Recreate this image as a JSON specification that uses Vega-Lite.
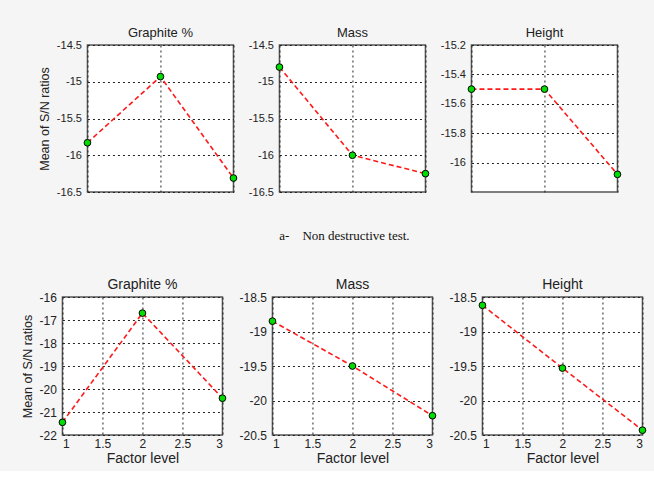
{
  "$schema": "https://vega.github.io/schema/vega-lite/v6.json",
  "background": "#f5f5f5",
  "padding": {"left": 20, "top": 26, "right": 5, "bottom": 5},
  "datasets": {
    "sn": [
      {"test": "A", "factor": "Graphite %", "level": 1, "sn": -15.83},
      {"test": "A", "factor": "Graphite %", "level": 2, "sn": -14.93},
      {"test": "A", "factor": "Graphite %", "level": 3, "sn": -16.31},
      {"test": "A", "factor": "Mass", "level": 1, "sn": -14.8},
      {"test": "A", "factor": "Mass", "level": 2, "sn": -16.0},
      {"test": "A", "factor": "Mass", "level": 3, "sn": -16.25},
      {"test": "A", "factor": "Height", "level": 1, "sn": -15.5},
      {"test": "A", "factor": "Height", "level": 2, "sn": -15.5},
      {"test": "A", "factor": "Height", "level": 3, "sn": -16.08},
      {"test": "B", "factor": "Graphite %", "level": 1, "sn": -21.45},
      {"test": "B", "factor": "Graphite %", "level": 2, "sn": -16.7},
      {"test": "B", "factor": "Graphite %", "level": 3, "sn": -20.4},
      {"test": "B", "factor": "Mass", "level": 1, "sn": -18.85},
      {"test": "B", "factor": "Mass", "level": 2, "sn": -19.5},
      {"test": "B", "factor": "Mass", "level": 3, "sn": -20.22},
      {"test": "B", "factor": "Height", "level": 1, "sn": -18.62},
      {"test": "B", "factor": "Height", "level": 2, "sn": -19.53},
      {"test": "B", "factor": "Height", "level": 3, "sn": -20.43}
    ]
  },
  "data": {"name": "sn"},
  "center": true,
  "spacing": 32,
  "vconcat": [
    {
      "hconcat": [
        {
          "title": "Graphite %",
          "width": 146, "height": 147,
          "transform": [{"filter": "datum.test == 'A' && datum.factor == 'Graphite %'"}],
          "encoding": {
            "x": {"field": "level", "type": "quantitative", "scale": {"domain": [1, 3], "nice": false, "zero": false}, "axis": {"values": [1, 2, 3], "labels": false, "title": null}},
            "y": {"field": "sn", "type": "quantitative", "scale": {"domain": [-16.5, -14.5], "nice": false, "zero": false}, "axis": {"values": [-16.5, -16, -15.5, -15, -14.5], "labelExpr": "datum.value + ''", "title": "Mean of S/N ratios", "titlePadding": 5}}
          },
          "layer": [
            {"mark": {"type": "line", "color": "#ff1a1a", "strokeDash": [5, 3], "strokeWidth": 1.6}},
            {"mark": {"type": "point", "filled": true, "fill": "#00dd00", "stroke": "#000", "strokeWidth": 1, "size": 45, "opacity": 1}}
          ]
        },
        {
          "title": "Mass",
          "width": 146, "height": 147,
          "transform": [{"filter": "datum.test == 'A' && datum.factor == 'Mass'"}],
          "encoding": {
            "x": {"field": "level", "type": "quantitative", "scale": {"domain": [1, 3], "nice": false, "zero": false}, "axis": {"values": [1, 2, 3], "labels": false, "title": null}},
            "y": {"field": "sn", "type": "quantitative", "scale": {"domain": [-16.5, -14.5], "nice": false, "zero": false}, "axis": {"values": [-16.5, -16, -15.5, -15, -14.5], "labelExpr": "datum.value + ''", "title": null}}
          },
          "layer": [
            {"mark": {"type": "line", "color": "#ff1a1a", "strokeDash": [5, 3], "strokeWidth": 1.6}},
            {"mark": {"type": "point", "filled": true, "fill": "#00dd00", "stroke": "#000", "strokeWidth": 1, "size": 45, "opacity": 1}}
          ]
        },
        {
          "title": "Height",
          "width": 146, "height": 147,
          "transform": [{"filter": "datum.test == 'A' && datum.factor == 'Height'"}],
          "encoding": {
            "x": {"field": "level", "type": "quantitative", "scale": {"domain": [1, 3], "nice": false, "zero": false}, "axis": {"values": [1, 2, 3], "labels": false, "title": null}},
            "y": {"field": "sn", "type": "quantitative", "scale": {"domain": [-16.2, -15.2], "nice": false, "zero": false}, "axis": {"values": [-16, -15.8, -15.6, -15.4, -15.2], "labelExpr": "datum.value + ''", "title": null}}
          },
          "layer": [
            {"mark": {"type": "line", "color": "#ff1a1a", "strokeDash": [5, 3], "strokeWidth": 1.6}},
            {"mark": {"type": "point", "filled": true, "fill": "#00dd00", "stroke": "#000", "strokeWidth": 1, "size": 45, "opacity": 1}}
          ]
        }
      ],
      "spacing": 46,
      "bounds": "flush"
    },
    {
      "title": {"text": "a-\u00a0\u00a0\u00a0\u00a0Non destructive test.", "font": "Liberation Serif", "fontSize": 13, "fontWeight": "normal", "color": "#111", "anchor": "middle", "offset": 34, "dx": 10},
      "hconcat": [
        {
          "title": {"text": "Graphite %", "fontSize": 14, "offset": -1},
          "width": 160, "height": 138,
          "transform": [{"filter": "datum.test == 'B' && datum.factor == 'Graphite %'"}],
          "encoding": {
            "x": {"field": "level", "type": "quantitative", "scale": {"domain": [1, 3], "nice": false, "zero": false}, "axis": {"values": [1, 1.5, 2, 2.5, 3], "labelExpr": "datum.value + ''", "labelFontSize": 12, "labelPadding": 3, "title": "Factor level", "titleFontSize": 14, "titlePadding": 2}},
            "y": {"field": "sn", "type": "quantitative", "scale": {"domain": [-22, -16], "nice": false, "zero": false}, "axis": {"values": [-22, -21, -20, -19, -18, -17, -16], "labelExpr": "datum.value + ''", "labelFontSize": 12, "title": "Mean of S/N ratios", "titlePadding": 5}}
          },
          "layer": [
            {"mark": {"type": "line", "color": "#ff1a1a", "strokeDash": [5, 3], "strokeWidth": 1.6}},
            {"mark": {"type": "point", "filled": true, "fill": "#00dd00", "stroke": "#000", "strokeWidth": 1, "size": 45, "opacity": 1}}
          ]
        },
        {
          "title": {"text": "Mass", "fontSize": 14, "offset": -1},
          "width": 160, "height": 138,
          "transform": [{"filter": "datum.test == 'B' && datum.factor == 'Mass'"}],
          "encoding": {
            "x": {"field": "level", "type": "quantitative", "scale": {"domain": [1, 3], "nice": false, "zero": false}, "axis": {"values": [1, 1.5, 2, 2.5, 3], "labelExpr": "datum.value + ''", "labelFontSize": 12, "labelPadding": 3, "title": "Factor level", "titleFontSize": 14, "titlePadding": 2}},
            "y": {"field": "sn", "type": "quantitative", "scale": {"domain": [-20.5, -18.5], "nice": false, "zero": false}, "axis": {"values": [-20.5, -20, -19.5, -19, -18.5], "labelExpr": "datum.value + ''", "labelFontSize": 12, "title": null}}
          },
          "layer": [
            {"mark": {"type": "line", "color": "#ff1a1a", "strokeDash": [5, 3], "strokeWidth": 1.6}},
            {"mark": {"type": "point", "filled": true, "fill": "#00dd00", "stroke": "#000", "strokeWidth": 1, "size": 45, "opacity": 1}}
          ]
        },
        {
          "title": {"text": "Height", "fontSize": 14, "offset": -1},
          "width": 160, "height": 138,
          "transform": [{"filter": "datum.test == 'B' && datum.factor == 'Height'"}],
          "encoding": {
            "x": {"field": "level", "type": "quantitative", "scale": {"domain": [1, 3], "nice": false, "zero": false}, "axis": {"values": [1, 1.5, 2, 2.5, 3], "labelExpr": "datum.value + ''", "labelFontSize": 12, "labelPadding": 3, "title": "Factor level", "titleFontSize": 14, "titlePadding": 2}},
            "y": {"field": "sn", "type": "quantitative", "scale": {"domain": [-20.5, -18.5], "nice": false, "zero": false}, "axis": {"values": [-20.5, -20, -19.5, -19, -18.5], "labelExpr": "datum.value + ''", "labelFontSize": 12, "title": null}}
          },
          "layer": [
            {"mark": {"type": "line", "color": "#ff1a1a", "strokeDash": [5, 3], "strokeWidth": 1.6}},
            {"mark": {"type": "point", "filled": true, "fill": "#00dd00", "stroke": "#000", "strokeWidth": 1, "size": 45, "opacity": 1}}
          ]
        }
      ],
      "spacing": 50,
      "bounds": "flush"
    }
  ],
  "config": {
    "view": {"stroke": "#555", "strokeWidth": 1.5, "fill": "white"},
    "axis": {"domain": false, "ticks": false, "grid": true, "gridColor": "#222", "gridDash": [2, 3], "gridWidth": 1, "labelFont": "Liberation Sans", "labelFontSize": 11, "labelColor": "#222", "labelPadding": 6, "titleFont": "Liberation Sans", "titleFontSize": 12.5, "titleFontWeight": "normal", "titleColor": "#222"},
    "title": {"font": "Liberation Sans", "fontSize": 13, "fontWeight": "normal", "color": "#222", "offset": -1}
  }
}
